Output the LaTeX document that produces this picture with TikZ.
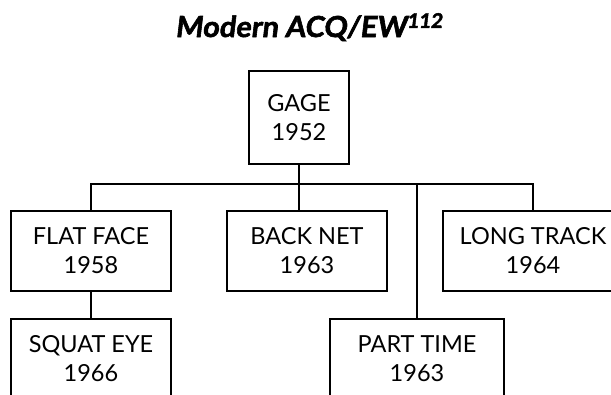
\documentclass[tikz,border=0pt]{standalone}
\usepackage{fontspec}
\setmainfont{Lato}
\newfontfamily\titlefont{Lato}[BoldFeatures={FakeBold=2, FakeSlant=0.12}]
\usepackage{tikz}
\usetikzlibrary{positioning, calc}
\tikzset{
  unit/.style={rectangle, draw=black, line width=1.2pt, minimum width=160pt, minimum height=80pt, align=center, inner sep=0pt, font=\fontsize{23.5}{29}\selectfont},
  link/.style={line width=1.2pt},
  heading/.style={font=\fontsize{29}{33}\selectfont\titlefont\bfseries, inner sep=0pt, anchor=base},
}
\begin{document}
\begin{tikzpicture}[x=1pt, y=-1pt]
\useasboundingbox (0,0) rectangle (611,394);
\clip (0,0) rectangle (611,394);
\node[heading] (title) at (309,37) {Modern ACQ/EW\textsuperscript{112}};
\node[unit, minimum width=100pt, minimum height=93pt] (gage) at (299,117.5) {GAGE\\1952};
\node[unit] (flat) at (91,251) {FLAT FACE\\1958};
\node[unit] (back) at (307,251) {BACK NET\\1963};
\node[unit, minimum width=180pt] (long) at (533,251) {LONG TRACK\\1964};
\node[unit] (squat) at (91,359) {SQUAT EYE\\1966};
\node[unit, minimum width=174pt] (part) at (417,359) {PART TIME\\1963};
\coordinate (bar) at (299,184);
\draw[link](gage.south)--(back.north -| gage.south);
\draw[link](flat.north)|-(bar)-|(long.north);
\draw[link](bar -| part.north)--(part.north);
\draw[link](flat)--(squat);
\end{tikzpicture}
\end{document}
